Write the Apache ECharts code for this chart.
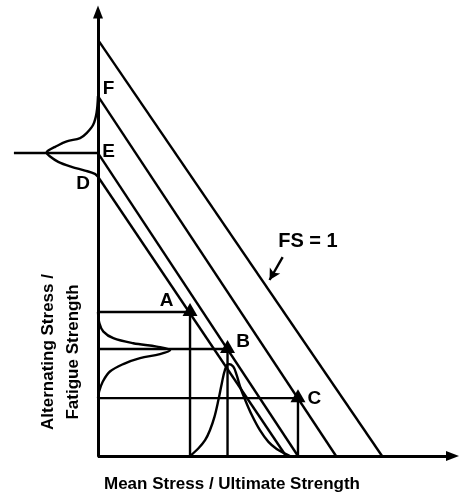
<!DOCTYPE html>
<html><head><meta charset="utf-8">
<script src="https://cdn.jsdelivr.net/npm/echarts@6/dist/echarts.min.js"></script>
<style>html,body{margin:0;padding:0;background:#fff}#c{width:461px;height:497px}</style>
</head><body><div id="c"></div><script>
// Straight criterion lines (mean stress ratio, alternating stress ratio)
const lineFS1 = [[0, 1.0], [1.0, 0]];
const lineF = [[0, 0.865], [0.838, 0]];
const lineE = [[0, 0.728], [0.704, 0]];
const lineD = [[0, 0.671], [0.662, 0]];

// Operating points
const pointNames = ['A', 'B', 'C'];
const pointX = [0.324, 0.456, 0.704];
const pointY = [0.346, 0.257, 0.139];

// Intercept labels on the vertical axis
const interceptNames = ['F', 'E', 'D'];
const interceptY = [0.865, 0.728, 0.671];
const eGuideLeftX = -0.296;

// Distribution along mean-stress axis
const meanDistX = [0.324, 0.353, 0.377, 0.394, 0.410, 0.424, 0.436, 0.447, 0.459, 0.476, 0.488, 0.500, 0.518, 0.541, 0.570, 0.600, 0.629, 0.658, 0.676];
const meanDistY = [0.000, 0.018, 0.038, 0.062, 0.094, 0.135, 0.175, 0.207, 0.221, 0.215, 0.195, 0.167, 0.135, 0.099, 0.062, 0.034, 0.017, 0.006, 0.000];

// Distribution of alternating stress (lower left)
const altDistX = [0, 0.005, 0.019, 0.054, 0.124, 0.207, 0.254, 0.218, 0.148, 0.089, 0.042, 0.017, 0.004, 0];
const altDistY = [0.346, 0.319, 0.299, 0.283, 0.271, 0.263, 0.255, 0.245, 0.235, 0.221, 0.203, 0.179, 0.155, 0.139];

// Distribution of fatigue strength (upper left)
const strDistX = [0, -0.005, -0.017, -0.040, -0.063, -0.110, -0.151, -0.175, -0.181, -0.171, -0.140, -0.093, -0.046, -0.011, 0];
const strDistY = [0.865, 0.825, 0.796, 0.776, 0.764, 0.756, 0.743, 0.734, 0.729, 0.721, 0.707, 0.695, 0.686, 0.678, 0.671];

const fsLabel = 'FS = 1';
const fsLabelPos = [0.739, 0.516];
const fsArrow = [[0.650, 0.478], [0.604, 0.423]];

const xTitle = 'Mean Stress / Ultimate Strength';
const yTitle = 'Alternating Stress /\nFatigue Strength';

const X_MIN = -0.345, X_MAX = 1.248, Y_MAX = 1.067;

const zip = (xs, ys) => xs.map((x, i) => [x, ys[i]]);
const FONT = '"Liberation Sans", Arial, Helvetica, sans-serif';
const LW = 2.4;
const black = '#000';

function straight(data) {
  return { type: 'line', data, symbol: 'none', clip: false, silent: true,
    lineStyle: { color: black, width: LW }, animation: false };
}
function curve(data) {
  return { type: 'line', data, symbol: 'none', clip: false, silent: true, smooth: 0.35,
    lineStyle: { color: black, width: LW }, animation: false };
}

const guideSeries = pointX.map((x, i) => straight([[0, pointY[i]], [x, pointY[i]], [x, 0]]));

const pointLabelOffsets = [[-23.5, -11], [15.5, -7.5], [16.5, 0.7]];
const interceptLabelOffsets = [[10.5, -7.5], [10.5, -1.5], [-15, 7]];

const labelData = [];
pointNames.forEach((n, i) => labelData.push({ value: [pointX[i], pointY[i]], name: n,
  label: { offset: pointLabelOffsets[i] } }));
interceptNames.forEach((n, i) => labelData.push({ value: [0, interceptY[i]], name: n,
  label: { offset: interceptLabelOffsets[i] } }));
labelData.push({ value: fsLabelPos, name: fsLabel, label: { offset: [0, 0], fontSize: 20 } });

const option = {
  animation: false,
  backgroundColor: '#fff',
  grid: { left: 0, right: 8.5, top: 12, bottom: 41, containLabel: false, outerBoundsMode: 'none' },
  xAxis: { type: 'value', min: X_MIN, max: X_MAX,
    axisTick: { show: false }, axisLabel: { show: false }, splitLine: { show: false },
    axisLine: { show: false } },
  yAxis: { type: 'value', min: 0, max: Y_MAX,
    axisTick: { show: false }, axisLabel: { show: false }, splitLine: { show: false },
    axisLine: { show: true, onZero: true, symbol: ['none', 'triangle'], symbolSize: [10, 13],
      lineStyle: { color: black, width: 3 } } },
  series: [
    straight(lineFS1), straight(lineF), straight(lineE), straight(lineD),
    ...guideSeries,
    straight([[eGuideLeftX, interceptY[1]], [0, interceptY[1]]]),
    curve(zip(meanDistX, meanDistY)),
    curve(zip(altDistX, altDistY)),
    curve(zip(strDistX, strDistY)),
    { type: 'scatter', data: zip(pointX, pointY), symbol: 'triangle', symbolSize: [15, 13],
      symbolOffset: [0, -2.5], itemStyle: { color: black, opacity: 1 }, silent: true, z: 5 },
    { type: 'scatter', data: labelData, symbolSize: 0, silent: true, z: 6,
      itemStyle: { opacity: 1 },
      label: { show: true, position: 'inside', formatter: p => p.name, color: black, opacity: 1,
        fontFamily: FONT, fontWeight: 'bold', fontSize: 19 } },
    { type: 'line', data: [], symbol: 'none', silent: true,
      markLine: { silent: true, symbol: ['none', 'arrow'], symbolSize: [9, 11], label: { show: false },
        lineStyle: { color: black, width: LW, type: 'solid', opacity: 1 },
        data: [[{ coord: fsArrow[0] }, { coord: fsArrow[1] }]] } },
    { type: 'line', data: [], symbol: 'none', silent: true,
      markLine: { silent: true, symbol: ['none', 'triangle'], symbolSize: [10, 13], label: { show: false },
        lineStyle: { color: black, width: 3, type: 'solid', opacity: 1 },
        data: [[{ coord: [0, 0] }, { coord: [X_MAX, 0] }]] } }
  ],
  graphic: [
    { type: 'text', x: 232, y: 484, silent: true,
      style: { text: xTitle, fill: black, font: 'bold 17px ' + FONT, align: 'center', verticalAlign: 'middle' } },
    { type: 'text', x: 61, y: 352, rotation: Math.PI / 2, silent: true,
      style: { text: yTitle, fill: black, font: 'bold 17px ' + FONT, align: 'center', verticalAlign: 'middle', lineHeight: 25 } }
  ]
};
const chart = echarts.init(document.getElementById('c'), null, { renderer: 'canvas' });
chart.setOption(option);
</script></body></html>
